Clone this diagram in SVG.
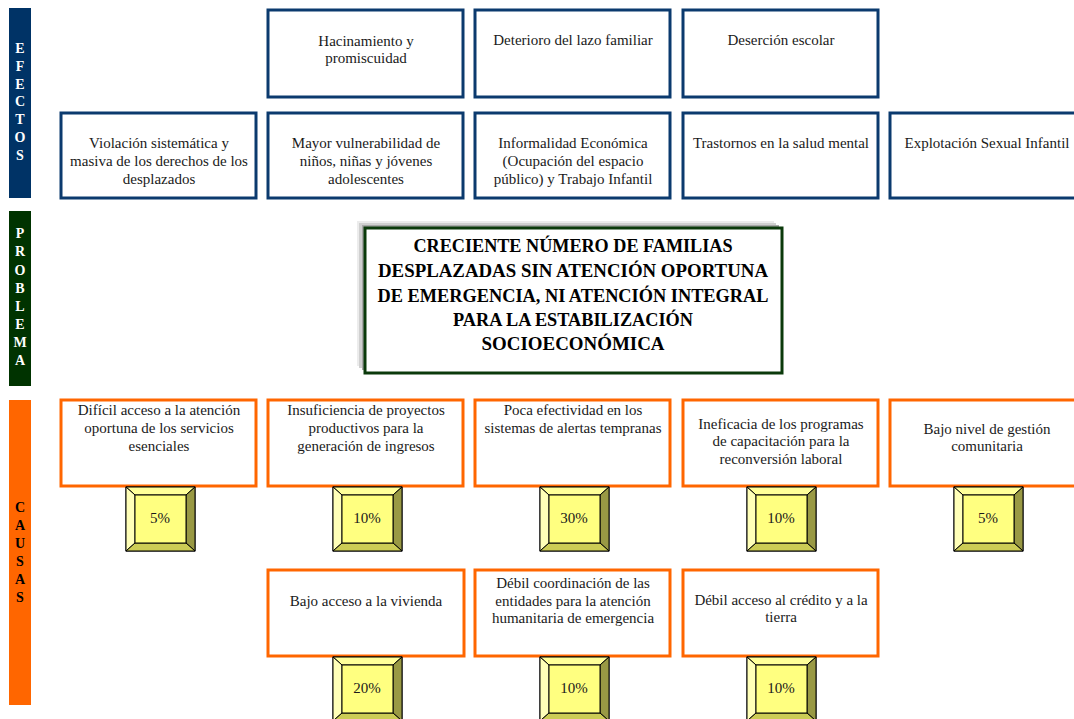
<svg xmlns="http://www.w3.org/2000/svg" xmlns:xlink="http://www.w3.org/1999/xlink" width="1074" height="719" viewBox="0 0 1074 719">
<style>
.bar{stroke:none}
.barTxt{font-family:"Liberation Serif",serif;font-weight:bold;font-size:14px;fill:#fff;text-anchor:middle}
.eff{fill:#fff;stroke:#0B3A6E;stroke-width:3}
.cau{fill:#fff;stroke:#FF6600;stroke-width:3}
.t{font-family:"Liberation Serif",serif;font-size:15px;fill:#1a1a1a;text-anchor:middle}
.pt{font-family:"Liberation Serif",serif;font-size:15px;fill:#1a1a1a;text-anchor:middle}
.prob{font-family:"Liberation Serif",serif;font-weight:bold;font-size:19px;fill:#000;text-anchor:middle}
</style>
<defs>
<g id="pct">
<rect x="0" y="0" width="69" height="64" fill="#FFFF80" stroke="#000" stroke-width="1"/>
<polygon points="0,0 69,0 60,8 9,8" fill="#FFFF99" stroke="#000" stroke-width="1"/>
<polygon points="0,0 9,8 9,56 0,64" fill="#FFFFB8" stroke="#000" stroke-width="1"/>
<polygon points="69,0 69,64 60,56 60,8" fill="#999944" stroke="#000" stroke-width="1"/>
<polygon points="0,64 9,56 60,56 69,64" fill="#CCCC55" stroke="#000" stroke-width="1"/>
<rect x="9" y="8" width="51" height="48" fill="#FFFF80" stroke="#000" stroke-width="1"/>
</g>
</defs>
<rect width="1074" height="719" fill="#fff"/>

<g id="bar-efectos">
<rect class="bar" x="9" y="8" width="22" height="190" fill="#003366"/>
<text class="barTxt"><tspan x="20" y="53">E</tspan><tspan x="20" y="71">F</tspan><tspan x="20" y="89">E</tspan><tspan x="20" y="106">C</tspan><tspan x="20" y="124">T</tspan><tspan x="20" y="142">O</tspan><tspan x="20" y="160">S</tspan></text>
</g>
<g id="bar-problema">
<rect class="bar" x="9" y="211" width="22" height="175" fill="#003300"/>
<text class="barTxt"><tspan x="20" y="238">P</tspan><tspan x="20" y="256">R</tspan><tspan x="20" y="275">O</tspan><tspan x="20" y="293">B</tspan><tspan x="20" y="311">L</tspan><tspan x="20" y="329">E</tspan><tspan x="20" y="347">M</tspan><tspan x="20" y="365">A</tspan></text>
</g>
<g id="bar-causas">
<rect class="bar" x="9" y="400" width="22" height="305" fill="#FF6600"/>
<text class="barTxt" style="fill:#000"><tspan x="20" y="512">C</tspan><tspan x="20" y="530">A</tspan><tspan x="20" y="548">U</tspan><tspan x="20" y="566">S</tspan><tspan x="20" y="584">A</tspan><tspan x="20" y="602">S</tspan></text>
</g>

<!-- Effects row 1 -->
<g id="e1"><rect class="eff" x="268" y="10" width="195" height="87"/>
<text class="t"><tspan x="366" y="46">Hacinamiento y</tspan><tspan x="366" y="63">promiscuidad</tspan></text></g>
<g id="e2"><rect class="eff" x="475" y="10" width="195" height="87"/>
<text class="t"><tspan x="573" y="45">Deterioro del lazo familiar</tspan></text></g>
<g id="e3"><rect class="eff" x="683" y="10" width="195" height="87"/>
<text class="t"><tspan x="781" y="45">Deserción escolar</tspan></text></g>

<!-- Effects row 2 -->
<g id="e4"><rect class="eff" x="61" y="113" width="195" height="85"/>
<text class="t"><tspan x="159" y="148">Violación sistemática y</tspan><tspan x="159" y="166">masiva de los derechos de los</tspan><tspan x="159" y="184">desplazados</tspan></text></g>
<g id="e5"><rect class="eff" x="268" y="113" width="195" height="85"/>
<text class="t"><tspan x="366" y="148">Mayor vulnerabilidad de</tspan><tspan x="366" y="166">niños, niñas y jóvenes</tspan><tspan x="366" y="184">adolescentes</tspan></text></g>
<g id="e6"><rect class="eff" x="475" y="113" width="195" height="85"/>
<text class="t"><tspan x="573" y="148">Informalidad Económica</tspan><tspan x="573" y="166">(Ocupación del espacio</tspan><tspan x="573" y="184">público) y Trabajo Infantil</tspan></text></g>
<g id="e7"><rect class="eff" x="683" y="113" width="195" height="85"/>
<text class="t"><tspan x="781" y="148">Trastornos en la salud mental</tspan></text></g>
<g id="e8"><rect class="eff" x="890" y="113" width="200" height="85"/>
<text class="t"><tspan x="987" y="148">Explotación Sexual Infantil</tspan></text></g>

<!-- Problem -->
<g id="problema">
<rect x="357" y="221" width="417" height="145" fill="#ececec"/>
<rect x="359" y="223" width="417" height="145" fill="#d0d0d0"/>
<rect x="362" y="225" width="417" height="145" fill="#a8a8a8"/>
<rect x="365" y="228" width="417" height="145" fill="#fff" stroke="#0B3A0B" stroke-width="3"/>
<text class="prob"><tspan x="573" y="252" textLength="319" lengthAdjust="spacingAndGlyphs">CRECIENTE NÚMERO DE FAMILIAS</tspan><tspan x="573" y="277" textLength="390" lengthAdjust="spacingAndGlyphs">DESPLAZADAS SIN ATENCIÓN OPORTUNA</tspan><tspan x="573" y="302" textLength="391" lengthAdjust="spacingAndGlyphs">DE EMERGENCIA, NI ATENCIÓN INTEGRAL</tspan><tspan x="573" y="326" textLength="240" lengthAdjust="spacingAndGlyphs">PARA LA ESTABILIZACIÓN</tspan><tspan x="573" y="350" textLength="183" lengthAdjust="spacingAndGlyphs">SOCIOECONÓMICA</tspan></text>
</g>

<!-- Causes row 1 -->
<g id="c1"><rect class="cau" x="61" y="400" width="195" height="86"/>
<text class="t"><tspan x="159" y="415">Difícil acceso a la atención</tspan><tspan x="159" y="433">oportuna de los servicios</tspan><tspan x="159" y="451">esenciales</tspan></text>
<use xlink:href="#pct" x="126" y="487"/><text class="pt" x="160" y="523">5%</text></g>
<g id="c2"><rect class="cau" x="268" y="400" width="195" height="86"/>
<text class="t"><tspan x="366" y="415">Insuficiencia de proyectos</tspan><tspan x="366" y="433">productivos para la</tspan><tspan x="366" y="451">generación de ingresos</tspan></text>
<use xlink:href="#pct" x="333" y="487"/><text class="pt" x="367" y="523">10%</text></g>
<g id="c3"><rect class="cau" x="475" y="400" width="195" height="86"/>
<text class="t"><tspan x="573" y="415">Poca efectividad en los</tspan><tspan x="573" y="433">sistemas de alertas tempranas</tspan></text>
<use xlink:href="#pct" x="540" y="487"/><text class="pt" x="574" y="523">30%</text></g>
<g id="c4"><rect class="cau" x="683" y="400" width="195" height="86"/>
<text class="t"><tspan x="781" y="429">Ineficacia de los programas</tspan><tspan x="781" y="446">de capacitación para la</tspan><tspan x="781" y="464">reconversión laboral</tspan></text>
<use xlink:href="#pct" x="747" y="487"/><text class="pt" x="781" y="523">10%</text></g>
<g id="c5"><rect class="cau" x="890" y="400" width="200" height="86"/>
<text class="t"><tspan x="987" y="434">Bajo nivel de gestión</tspan><tspan x="987" y="451">comunitaria</tspan></text>
<use xlink:href="#pct" x="954" y="487"/><text class="pt" x="988" y="523">5%</text></g>

<!-- Causes row 2 -->
<g id="c6"><rect class="cau" x="268" y="570" width="196" height="86"/>
<text class="t"><tspan x="366" y="606">Bajo acceso a la vivienda</tspan></text>
<use xlink:href="#pct" x="333" y="657"/><text class="pt" x="367" y="693">20%</text></g>
<g id="c7"><rect class="cau" x="475" y="570" width="195" height="86"/>
<text class="t"><tspan x="573" y="588">Débil coordinación de las</tspan><tspan x="573" y="606">entidades para la atención</tspan><tspan x="573" y="623">humanitaria de emergencia</tspan></text>
<use xlink:href="#pct" x="540" y="657"/><text class="pt" x="574" y="693">10%</text></g>
<g id="c8"><rect class="cau" x="683" y="570" width="195" height="86"/>
<text class="t"><tspan x="781" y="605">Débil acceso al crédito y a la</tspan><tspan x="781" y="622">tierra</tspan></text>
<use xlink:href="#pct" x="747" y="657"/><text class="pt" x="781" y="693">10%</text></g>

<g id="connectors"></g>
</svg>
